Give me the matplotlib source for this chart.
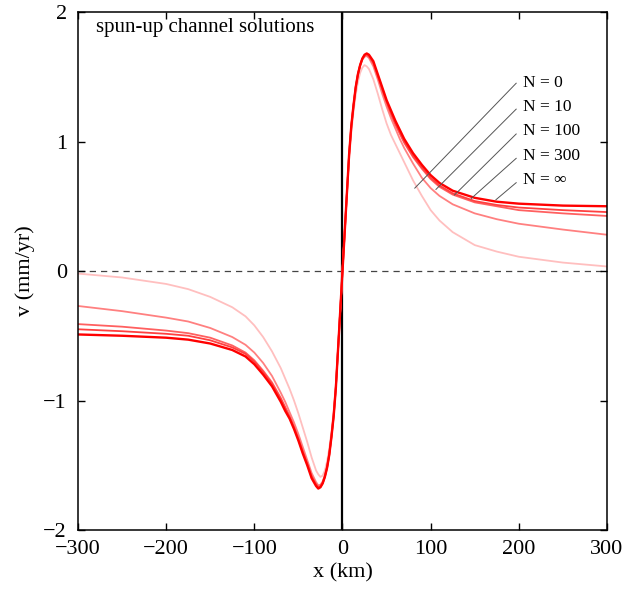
import numpy as np
import matplotlib.pyplot as plt

plt.rcParams['font.family'] = ['Liberation Serif', 'DejaVu Serif']
plt.rcParams['axes.unicode_minus'] = True

x_km = [-300, -250, -200, -175, -150, -125, -110, -100, -90, -80, -70, -65, -60,
        -55, -50, -45, -40, -35, -30, -27.5, -25, -22.5, -20, -17.5, -15, -12.5,
        -10, -7.5, -5, -2.5, 0, 2.5, 5, 7.5, 10, 12.5, 15, 17.5, 20, 22.5, 25,
        27.5, 30, 35, 40, 45, 50, 55, 60, 65, 70, 80, 90, 100, 110, 125, 150,
        175, 200, 250, 300]

# velocity (mm/yr) for each channel solution
v_N0 = [-0.02, -0.05, -0.10, -0.14, -0.20, -0.28, -0.35, -0.42, -0.51, -0.62,
        -0.75, -0.83, -0.91, -1.00, -1.10, -1.21, -1.32, -1.44, -1.54, -1.57,
        -1.59, -1.58, -1.54, -1.47, -1.37, -1.24, -1.08, -0.87, -0.59, -0.29,
        0.0,
        0.29, 0.58, 0.86, 1.07, 1.23, 1.36, 1.46, 1.53, 1.57, 1.59, 1.58, 1.56,
        1.48, 1.37, 1.25, 1.14, 1.05, 0.98, 0.91, 0.84, 0.70, 0.58, 0.47, 0.39,
        0.30, 0.20, 0.15, 0.11, 0.065, 0.035]
v_N10 = [-0.27, -0.31, -0.36, -0.39, -0.44, -0.51, -0.57, -0.63, -0.71, -0.81,
         -0.94, -1.01, -1.09, -1.17, -1.26, -1.36, -1.46, -1.56, -1.63, -1.655,
         -1.65, -1.625, -1.575, -1.505, -1.405, -1.265, -1.105, -0.89, -0.60, -0.30,
         0.0,
         0.30, 0.60, 0.89, 1.11, 1.27, 1.41, 1.51, 1.58, 1.63, 1.655, 1.66, 1.645,
         1.58, 1.48, 1.37, 1.27, 1.18, 1.10, 1.02, 0.95, 0.83, 0.72, 0.64, 0.58,
         0.515, 0.445, 0.40, 0.365, 0.32, 0.28]
v_N100 = [-0.41, -0.43, -0.46, -0.48, -0.515, -0.575, -0.63, -0.69, -0.77, -0.86,
          -0.98, -1.05, -1.12, -1.20, -1.29, -1.39, -1.48, -1.58, -1.645, -1.665,
          -1.66, -1.635, -1.585, -1.515, -1.415, -1.275, -1.115, -0.895, -0.60, -0.30,
          0.0,
          0.30, 0.60, 0.90, 1.12, 1.28, 1.42, 1.52, 1.59, 1.64, 1.66, 1.67, 1.655,
          1.60, 1.50, 1.40, 1.30, 1.21, 1.13, 1.06, 0.99, 0.88, 0.79, 0.71, 0.65,
          0.59, 0.53, 0.50, 0.47, 0.445, 0.425]
v_N300 = [-0.45, -0.465, -0.485, -0.50, -0.535, -0.59, -0.64, -0.70, -0.78, -0.87,
          -0.99, -1.06, -1.13, -1.21, -1.30, -1.40, -1.49, -1.59, -1.65, -1.67,
          -1.665, -1.64, -1.59, -1.52, -1.42, -1.28, -1.12, -0.90, -0.60, -0.30,
          0.0,
          0.30, 0.60, 0.90, 1.12, 1.28, 1.42, 1.52, 1.59, 1.64, 1.665, 1.675, 1.66,
          1.61, 1.51, 1.41, 1.31, 1.22, 1.14, 1.07, 1.00, 0.89, 0.80, 0.72, 0.66,
          0.60, 0.54, 0.51, 0.49, 0.47, 0.455]
v_Ninf = [-0.49, -0.50, -0.515, -0.53, -0.56, -0.61, -0.66, -0.72, -0.80, -0.89,
          -1.01, -1.08, -1.14, -1.22, -1.31, -1.41, -1.50, -1.60, -1.66, -1.68,
          -1.67, -1.64, -1.59, -1.52, -1.42, -1.28, -1.12, -0.90, -0.60, -0.30,
          0.0,
          0.30, 0.60, 0.90, 1.12, 1.28, 1.42, 1.52, 1.59, 1.64, 1.67, 1.68, 1.67,
          1.62, 1.52, 1.42, 1.32, 1.24, 1.16, 1.09, 1.02, 0.91, 0.82, 0.74, 0.68,
          0.62, 0.565, 0.535, 0.52, 0.505, 0.50]

labels = ['N = 0', 'N = 10', 'N = 100', 'N = 300', 'N = \u221e']
series = [v_N0, v_N10, v_N100, v_N300, v_Ninf]
colors = ['#ffbfbf', '#ff8080', '#ff6060', '#ff4040', '#ff0000']
widths = [1.3, 1.3, 1.3, 1.3, 1.7]

# label positions and the ends of their leader lines (data units)
label_xy = [(205, 1.45), (205, 1.27), (205, 1.08), (205, 0.89), (205, 0.70)]
leader_start = [(197, 1.45), (197, 1.25), (197, 1.058), (197, 0.87), (197, 0.682)]
leader_end = [(82, 0.64), (106, 0.63), (127, 0.587), (146, 0.56), (174, 0.55)]

fig = plt.figure(figsize=(6.23, 5.91), dpi=100)
ax = fig.add_axes([0.1252, 0.1032, 0.8491, 0.8765])

ax.axhline(0, color='#444444', lw=0.9, ls=(0, (5, 4)), zorder=1)
ax.axvline(0, color='black', lw=1.6, zorder=1)

for v, c, w in zip(series, colors, widths):
    ax.plot(x_km, v, color=c, lw=w, zorder=2)

for lab, (tx, ty), (x0, y0), (x1, y1) in zip(labels, label_xy, leader_start, leader_end):
    ax.plot([x0, x1], [y0, y1], color='#555555', lw=0.7, zorder=3)
    ax.text(tx, ty, lab, fontsize=12.5, va='center', ha='left')

ax.text(-280, 1.88, 'spun-up channel solutions', fontsize=15, va='center', ha='left')

ax.set_xlim(-300, 300)
ax.set_ylim(-2, 2)
ax.set_xticks([-300, -200, -100, 0, 100, 200, 300])
ax.set_yticks([-2, -1, 0, 1, 2])
ax.tick_params(direction='in', length=5, width=1, top=True, right=True,
               labelsize=16)
ax.tick_params(axis='x', pad=7)
ax.tick_params(axis='y', pad=8)
for s in ax.spines.values():
    s.set_linewidth(1.1)
ax.set_xlabel('x (km)', fontsize=16, labelpad=3)
ax.set_ylabel('v (mm/yr)', fontsize=16, labelpad=6)

fig.savefig('out.png', dpi=100)
